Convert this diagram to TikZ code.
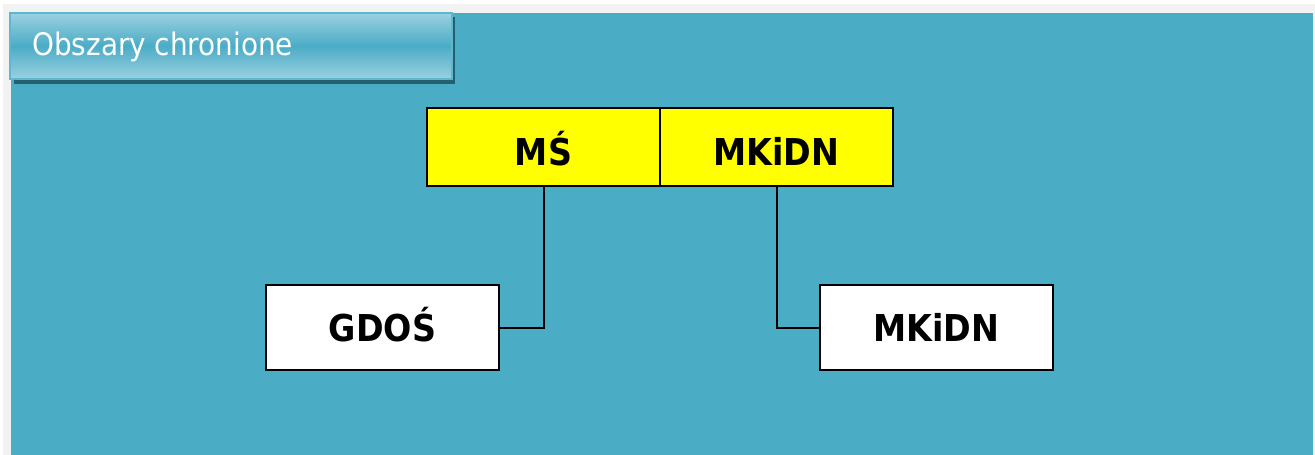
\documentclass[tikz,border=0pt]{standalone}
\usepackage{fontspec}
\setmainfont{DejaVu Sans Condensed}
\usetikzlibrary{positioning}
\definecolor{pagegray}{HTML}{F2F2F2}
\definecolor{slideteal}{HTML}{4BACC6}
\definecolor{titlelight}{HTML}{9BD1E0}
\definecolor{titleedge}{HTML}{5DB8CF}
\definecolor{titleshadow}{HTML}{245F70}
\definecolor{orgyellow}{HTML}{FFFF00}

\begin{document}
\begin{tikzpicture}[x=1pt,y=-1pt,
  orgbox/.style={draw=black,line width=2pt,inner sep=0pt,text depth=0pt,
    font=\fontsize{37}{40}\selectfont\bfseries},
  topbox/.style={orgbox,fill=orgyellow,minimum width=233pt,minimum height=78pt,text height=36pt},
  lowbox/.style={orgbox,fill=white,minimum width=233pt,minimum height=85pt,text height=27pt},
  link/.style={draw=black,line width=2pt}]
\useasboundingbox (0,0) rectangle (1315,455);
% page and slide
\fill[white] (0,0) rectangle (1315,455);
\fill[pagegray] (3,4) rectangle (1315,455);
\fill[slideteal] (11,13) rectangle (1313,455);
% title bar
\fill[titleshadow] (14,17) rectangle (455,84);
\shade[top color=titlelight,bottom color=titlelight,middle color=slideteal] (10,13) rectangle (452,79);
\draw[titleedge,line width=1.5pt] (10,13) rectangle (452,79);
\node[anchor=west,text=white,inner sep=0pt,font=\fontsize{31}{34}\selectfont] (title) at (32,47) {Obszary chronione};
% organisations
\node[topbox] (ms) at (543.5,147) {MŚ};
\node[topbox,right=-2pt of ms] (mkidn) {MKiDN};
\node[lowbox] (gdos) at (382.5,327.5) {GDOŚ};
\node[lowbox] (mkidnlow) at (936,327.5) {MKiDN};
\draw[link] (ms.south) |- (gdos.east);
\draw[link] (mkidn.south) |- (mkidnlow.west);
\end{tikzpicture}
\end{document}
